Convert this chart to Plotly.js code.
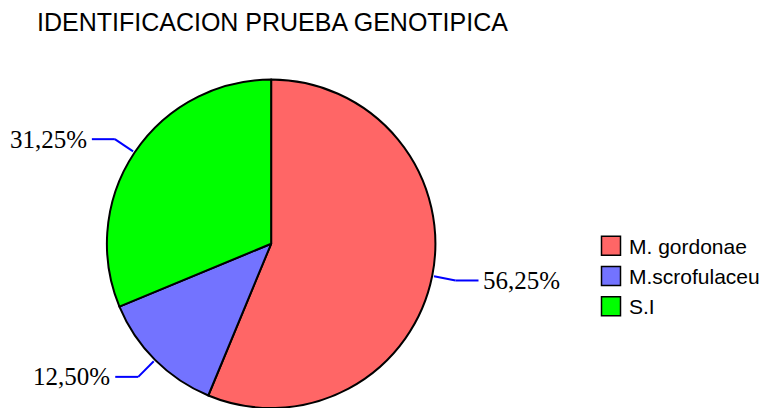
<!DOCTYPE html>
<html>
<head>
<meta charset="utf-8">
<script src="https://cdn.plot.ly/plotly-3.0.1.min.js"></script>
<style>html,body{margin:0;padding:0;background:#fff;}#chart{width:765px;height:408px;}</style>
</head>
<body>
<div id="chart"></div>
<script>
const categories = ['M. gordonae', 'M.scrofulaceu', 'S.I'];
const percents = [56.25, 12.50, 31.25];
const sliceColors = ['#FF6666', '#7373FF', '#00FF00'];
const chartTitle = 'IDENTIFICACION PRUEBA GENOTIPICA';

const W = 765, H = 408;
const domX = [0.1392, 0.5706];
const domY = [0, 0.8051];

// pie geometry as Plotly computes it (no outside text)
const cx = W * (domX[0] + domX[1]) / 2;
const cy = H * (1 - (domY[0] + domY[1]) / 2);
const r = Math.min(W * (domX[1] - domX[0]), H * (domY[1] - domY[0])) / 2;

const total = percents.reduce((a, b) => a + b, 0);
const shapes = [];
const annotations = [];
let cum = 0;
const px2x = p => p / W;
const px2y = p => 1 - p / H;
percents.forEach((v, i) => {
  const th = 2 * Math.PI * (cum + v / 2) / total;
  cum += v;
  const s = Math.sin(th), c = Math.cos(th);
  const r0 = r + 2, r1 = r + 24;
  const x0 = cx + r0 * s, y0 = cy - r0 * c;
  const x1 = cx + r1 * s, y1 = cy - r1 * c;
  const dir = s >= 0 ? 1 : -1;
  const x2 = x1 + dir * 23;
  const ln = {color: '#0000FF', width: 2};
  shapes.push({type: 'line', xref: 'paper', yref: 'paper', x0: px2x(x0), y0: px2y(y0), x1: px2x(x1), y1: px2y(y1), line: ln});
  shapes.push({type: 'line', xref: 'paper', yref: 'paper', x0: px2x(x1), y0: px2y(y1), x1: px2x(x2), y1: px2y(y1), line: ln});
  annotations.push({
    xref: 'paper', yref: 'paper', x: px2x(x2 + dir * 3), y: px2y(y1),
    xanchor: dir > 0 ? 'left' : 'right', yanchor: 'middle', showarrow: false,
    text: v.toFixed(2).replace('.', ',') + '%',
    font: {family: 'Liberation Serif, Times New Roman, serif', size: 25, color: '#000'}
  });
});

const data = [{
  type: 'pie',
  labels: categories,
  values: percents,
  sort: false,
  direction: 'clockwise',
  rotation: 0,
  textinfo: 'none',
  hoverinfo: 'label+percent',
  marker: {colors: sliceColors, line: {color: '#000', width: 2}},
  domain: {x: domX, y: domY}
}];

const layout = {
  width: W, height: H,
  margin: {l: 0, r: 0, t: 0, b: 0},
  paper_bgcolor: '#fff',
  title: {
    text: chartTitle,
    x: 37 / W, xanchor: 'left', xref: 'container',
    y: 1 - 22 / H, yanchor: 'middle', yref: 'container',
    font: {family: 'Liberation Sans, Arial, sans-serif', size: 25, color: '#000'}
  },
  showlegend: true,
  legend: {
    x: 590 / W, xanchor: 'left',
    y: 1 - 276 / H, yanchor: 'middle',
    font: {family: 'Liberation Sans, Arial, sans-serif', size: 21, color: '#000'},
    bgcolor: 'rgba(0,0,0,0)'
  },
  shapes: shapes,
  annotations: annotations
};

Plotly.newPlot('chart', data, layout, {displayModeBar: false, staticPlot: true}).then(gd => {
  gd.querySelectorAll('.legend .legendpoints path').forEach(p => {
    p.setAttribute('d', 'M11.5,9.5H-7.5V-9.5H11.5Z');
    p.style.strokeWidth = '1.5px';
  });
});
</script>
</body>
</html>
